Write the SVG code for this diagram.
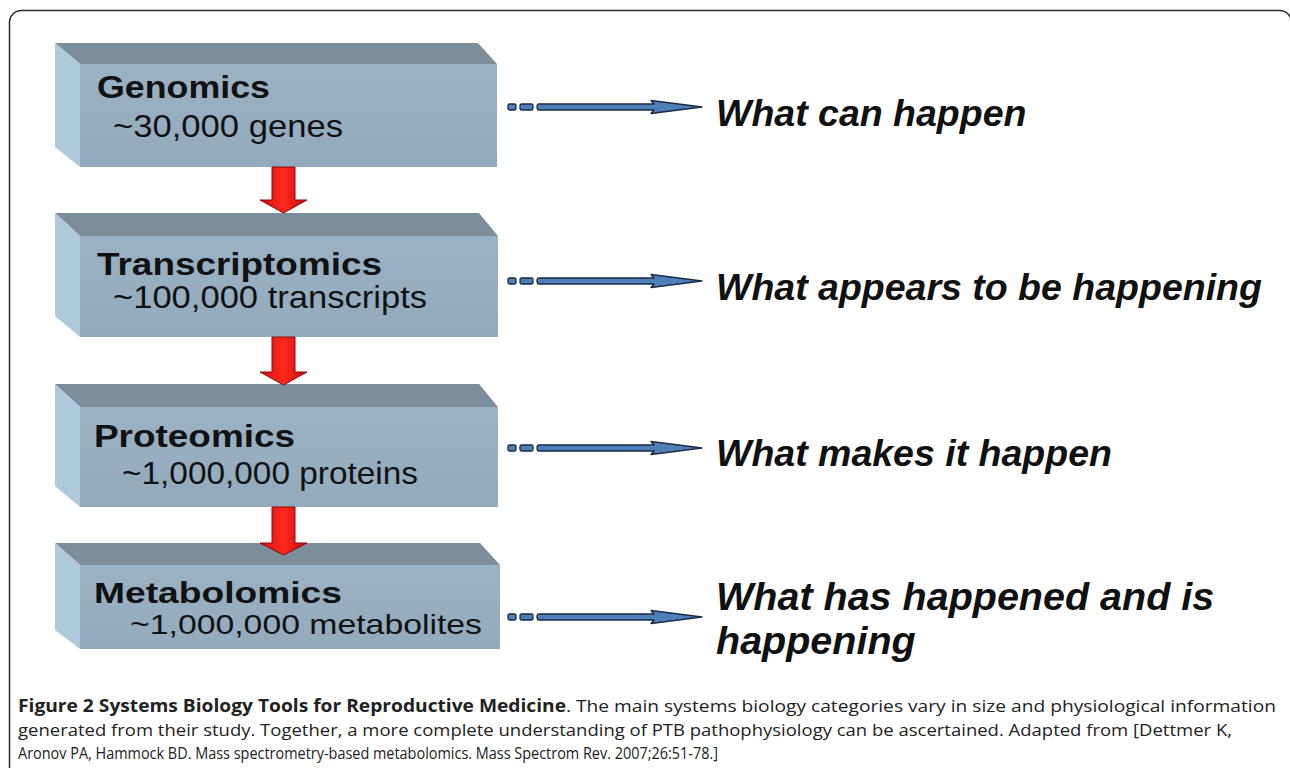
<svg xmlns="http://www.w3.org/2000/svg" width="1290" height="768" viewBox="0 0 1290 768">
<defs>
<linearGradient id="front" x1="0" y1="0" x2="0" y2="1">
<stop offset="0" stop-color="#9ab2c4"/>
<stop offset="1" stop-color="#93aabc"/>
</linearGradient>
<linearGradient id="redg" x1="0" y1="0" x2="1" y2="0">
<stop offset="0" stop-color="#d80c0c"/>
<stop offset="0.5" stop-color="#ff2a1e"/>
<stop offset="1" stop-color="#c80808"/>
</linearGradient>
</defs>
<style>
.top{fill:#7c8e9b}
.side{fill:#afc9dc}
.front{fill:url(#front)}
.title{font-family:"Liberation Sans",Arial,sans-serif;font-weight:bold;font-size:32px;fill:#111}
.sub{font-family:"Liberation Sans",Arial,sans-serif;font-size:32px;fill:#111}
.lab{font-family:"Liberation Sans",Arial,sans-serif;font-weight:bold;font-style:italic;font-size:37.5px;fill:#111}
.lab4{font-size:39.5px}
.cap{font-family:"Open Sans","Liberation Sans",sans-serif;font-size:17px;fill:#222}
.capb{font-weight:bold}
.blue{fill:#4d7fb9;stroke:#1d2a42;stroke-width:1.3;stroke-linejoin:round}
.red{fill:url(#redg);stroke:#8a0a0a;stroke-width:1}
</style>
<rect x="9.5" y="10.5" width="1282" height="800" rx="12" fill="#fff" stroke="#2a2a2a" stroke-width="1.5"/>

<g id="genomics">
<polygon class="top" points="55,43 478,43 497,64 80,64"/>
<polygon class="side" points="55,43 80,64 80,167 55,147"/>
<rect class="front" x="80" y="64" width="417" height="103"/>
<text class="title" x="97" y="98" textLength="173" lengthAdjust="spacingAndGlyphs">Genomics</text>
<text class="sub" x="113" y="137" textLength="230" lengthAdjust="spacingAndGlyphs">~30,000 genes</text>
</g>

<g id="transcriptomics">
<polygon class="top" points="55,213 479,213 498,236 80,236"/>
<polygon class="side" points="55,213 80,236 80,337 55,316"/>
<rect class="front" x="80" y="236" width="418" height="101"/>
<text class="title" x="97" y="275" textLength="285" lengthAdjust="spacingAndGlyphs">Transcriptomics</text>
<text class="sub" x="113" y="308" textLength="314" lengthAdjust="spacingAndGlyphs">~100,000 transcripts</text>
</g>

<g id="proteomics">
<polygon class="top" points="55,384 479,384 498,407 80,407"/>
<polygon class="side" points="55,384 80,407 80,507 55,486"/>
<rect class="front" x="80" y="407" width="418" height="100"/>
<text class="title" x="94" y="447" textLength="201" lengthAdjust="spacingAndGlyphs">Proteomics</text>
<text class="sub" x="122" y="484" textLength="296" lengthAdjust="spacingAndGlyphs">~1,000,000 proteins</text>
</g>

<g id="metabolomics">
<polygon class="top" points="55,543 480,543 500,565 80,565"/>
<polygon class="side" points="55,543 80,565 80,649 55,630"/>
<rect class="front" x="80" y="565" width="420" height="84"/>
<text class="title" x="94" y="603" style="font-size:30px" textLength="248" lengthAdjust="spacingAndGlyphs">Metabolomics</text>
<text class="sub" x="130" y="634" style="font-size:28.5px" textLength="352" lengthAdjust="spacingAndGlyphs">~1,000,000 metabolites</text>
</g>

<g id="label1"><text class="lab" x="716" y="126">What can happen</text></g>
<g id="label2"><text class="lab" x="716" y="300">What appears to be happening</text></g>
<g id="label3"><text class="lab" x="716" y="466">What makes it happen</text></g>
<g id="label4"><text class="lab lab4" x="716" y="610">What has happened and is</text>
<text class="lab lab4" x="716" y="654">happening</text></g>

<g id="connectors">
<path class="red" d="M272,167 H295 V200 H307 L283.5,213 L260,200 H272 Z"/>
<path class="red" d="M272,337 H295 V372 H307 L283.5,385 L260,372 H272 Z"/>
<path class="red" d="M272,507 H295 V543 H307 L283.5,555 L260,543 H272 Z"/>

<g transform="translate(0,107)">
<rect class="blue" x="508" y="-3" width="8" height="6" rx="1.5"/>
<rect class="blue" x="520" y="-3" width="13" height="6" rx="1.5"/>
<path class="blue" d="M539,-3 H654 L651,-6.5 L702,0 L651,6.5 L654,3 H539 Q537,3 537,0 Q537,-3 539,-3 Z"/>
</g>
<g transform="translate(0,281)">
<rect class="blue" x="508" y="-3" width="8" height="6" rx="1.5"/>
<rect class="blue" x="520" y="-3" width="13" height="6" rx="1.5"/>
<path class="blue" d="M539,-3 H654 L651,-6.5 L702,0 L651,6.5 L654,3 H539 Q537,3 537,0 Q537,-3 539,-3 Z"/>
</g>
<g transform="translate(0,448)">
<rect class="blue" x="508" y="-3" width="8" height="6" rx="1.5"/>
<rect class="blue" x="520" y="-3" width="13" height="6" rx="1.5"/>
<path class="blue" d="M539,-3 H654 L651,-6.5 L702,0 L651,6.5 L654,3 H539 Q537,3 537,0 Q537,-3 539,-3 Z"/>
</g>
<g transform="translate(0,617)">
<rect class="blue" x="508" y="-3" width="8" height="6" rx="1.5"/>
<rect class="blue" x="520" y="-3" width="13" height="6" rx="1.5"/>
<path class="blue" d="M539,-3 H654 L651,-6.5 L702,0 L651,6.5 L654,3 H539 Q537,3 537,0 Q537,-3 539,-3 Z"/>
</g>
</g>

<g id="caption">
<text class="cap" x="18" y="712" textLength="1258" lengthAdjust="spacingAndGlyphs"><tspan class="capb">Figure 2 Systems Biology Tools for Reproductive Medicine</tspan>. The main systems biology categories vary in size and physiological information</text>
<text class="cap" x="18" y="736" textLength="1214" lengthAdjust="spacingAndGlyphs">generated from their study. Together, a more complete understanding of PTB pathophysiology can be ascertained. Adapted from [Dettmer K,</text>
<text class="cap" x="18" y="759" textLength="700" lengthAdjust="spacingAndGlyphs">Aronov PA, Hammock BD. Mass spectrometry-based metabolomics. Mass Spectrom Rev. 2007;26:51-78.]</text>
</g>
</svg>
